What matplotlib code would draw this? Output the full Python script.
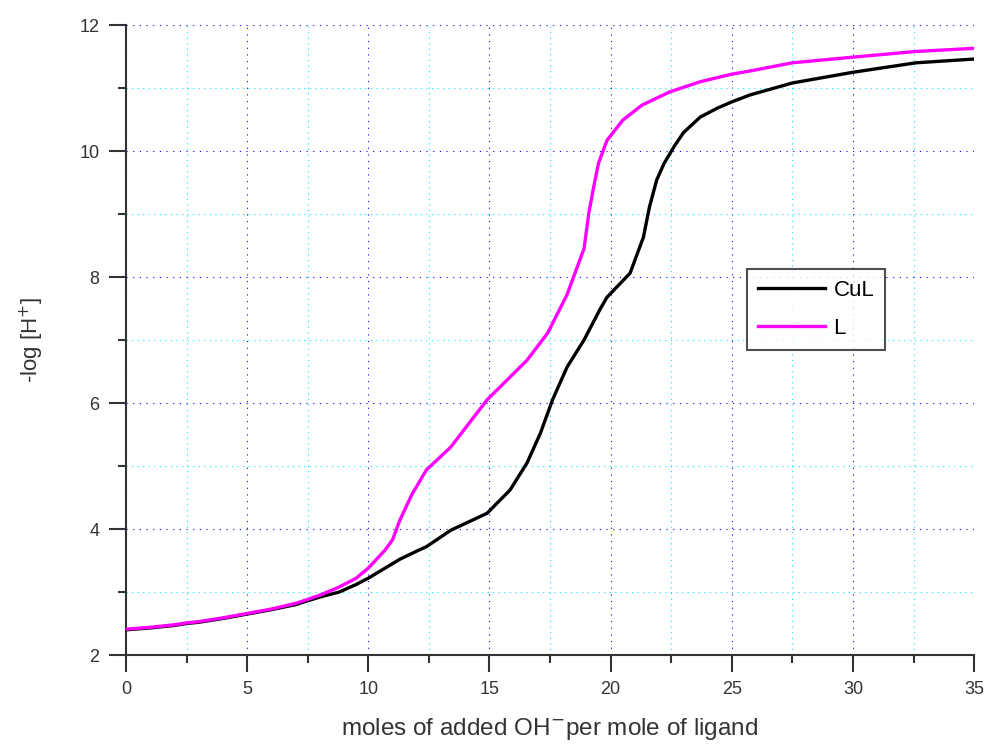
import matplotlib
matplotlib.use("Agg")
import matplotlib.pyplot as plt
from matplotlib.ticker import MultipleLocator

plt.rcParams['font.family'] = ['Liberation Sans', 'DejaVu Sans']

# L curve (magenta)
l_x = [0, 1, 2, 2.5, 3, 4, 5, 6, 7, 7.4, 8, 8.8, 9.5, 10, 10.7, 11.0, 11.3, 11.8, 12.4, 13.4,
       14.9, 16.55, 17.4, 18.2, 18.9, 19.1, 19.3, 19.5, 19.85, 20.5, 21.3, 22.45, 23.7,
       25.0, 25.75, 27.5, 30.0, 32.6, 35.0]
l_y = [2.41, 2.44, 2.48, 2.51, 2.53, 2.59, 2.66, 2.73, 2.82, 2.87, 2.95, 3.08, 3.22, 3.38, 3.67, 3.83,
       4.14, 4.55, 4.94, 5.30, 6.05, 6.68, 7.11, 7.72, 8.45, 9.02, 9.43, 9.81, 10.17, 10.49,
       10.73, 10.94, 11.10, 11.22, 11.27, 11.40, 11.49, 11.58, 11.63]

# CuL curve (black)
cul_x = [0, 1, 2, 2.5, 3, 4, 5, 6, 7, 7.4, 8, 8.8, 9.5, 10, 11.3, 12.0, 12.4, 13.4, 14.9,
         15.85, 16.55, 17.1, 17.6, 18.2, 18.9, 19.55, 19.85, 20.8, 21.35, 21.6, 21.9,
         22.2, 22.6, 23.0, 23.7, 24.4, 25.0, 25.75, 27.5, 30.0, 32.6, 35.0]
cul_y = [2.40, 2.43, 2.47, 2.50, 2.52, 2.58, 2.65, 2.72, 2.80, 2.85, 2.92, 3.00, 3.12, 3.22, 3.52,
         3.65, 3.72, 3.98, 4.25, 4.62, 5.05, 5.52, 6.05, 6.57, 7.00, 7.48, 7.68, 8.06,
         8.63, 9.11, 9.54, 9.80, 10.06, 10.29, 10.54, 10.68, 10.78, 10.89, 11.08, 11.25,
         11.40, 11.46]

series_names = ["CuL", "L"]

fig = plt.figure(figsize=(9.89, 7.51), dpi=100)
ax = fig.add_axes([0.1274, 0.1278, 0.8576, 0.8389])

ax.plot(cul_x, cul_y, color="black", lw=2.4, label=series_names[0], zorder=3)
ax.plot(l_x, l_y, color="#ff00ff", lw=2.4, label=series_names[1], zorder=3)

ax.set_xlim(0, 35)
ax.set_ylim(2, 12)
ax.xaxis.set_major_locator(MultipleLocator(5))
ax.xaxis.set_minor_locator(MultipleLocator(2.5))
ax.yaxis.set_major_locator(MultipleLocator(2))
ax.yaxis.set_minor_locator(MultipleLocator(1))

ax.grid(which="major", color="#0000ff", linestyle=(0, (1, 5)), linewidth=0.8)
ax.grid(which="minor", color="#00e5ff", linestyle=(0, (1, 4)), linewidth=0.8)
ax.set_axisbelow(True)

for s in ["top", "right"]:
    ax.spines[s].set_visible(False)
for s in ["left", "bottom"]:
    ax.spines[s].set_color("#333333")
    ax.spines[s].set_linewidth(1.5)

ax.tick_params(which="major", direction="out", length=12, width=1.5, color="#333333",
               labelsize=13, labelcolor="#333333", pad=7)
ax.tick_params(which="minor", direction="out", length=6, width=1.5, color="#333333")

ax.set_xlabel("moles of added OH$^{\\mathsf{-}}$per mole of ligand", fontsize=17.5,
              color="#333333", labelpad=13)
ax.set_ylabel("-log [H$^{+}$]", fontsize=16, color="#333333", labelpad=24)

leg = ax.legend(loc="upper left", bbox_to_anchor=(0.732, 0.613), fontsize=16,
                frameon=True, fancybox=False, edgecolor="#222222", handlelength=3.0,
                borderpad=0.5, labelspacing=0.75, handletextpad=0.4, borderaxespad=0)
leg.get_frame().set_linewidth(1.5)

fig.savefig("out.png", dpi=100)
